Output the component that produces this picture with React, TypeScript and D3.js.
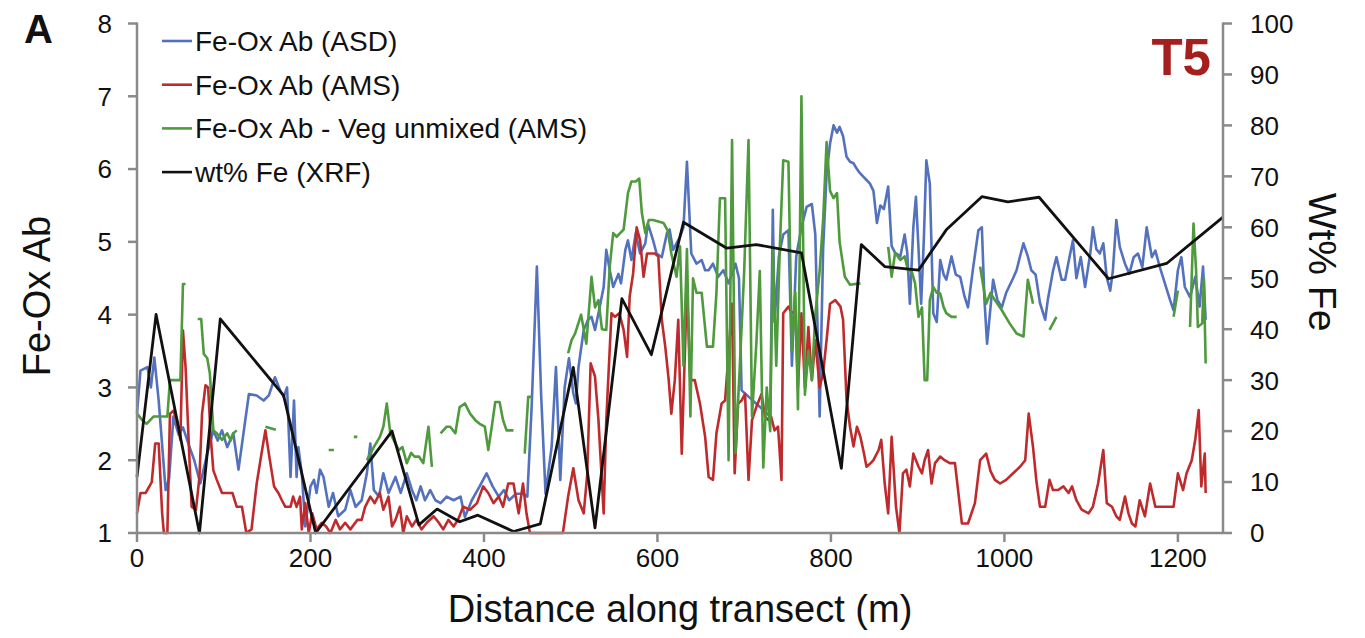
import React from "react";
import * as d3 from "d3";

// Fe-oxide abundance from field spectrometer (ASD)
const asdDist = [0,4,12,16,20,25,33,37,42,48,53,60,66,73,81,88,93,98,104,111,117,129,138,146,152,159,165,169,173,177,181,184,186,190,194,198,200,204,207,211,215,221,226,232,240,246,252,259,265,269,273,279,284,290,298,304,311,317,322,327,332,338,344,350,357,365,373,378,386,395,403,410,417,423,429,437,445,450,455,461,466,471,478,483,488,493,498,503,506,509,515,520,524,528,532,538,541,545,549,555,558,563,566,570,575,580,586,589,595,599,605,611,614,618,622,626,630,634,639,645,651,655,659,664,670,676,682,686,690,694,697,730,733,735,740,745,751,755,760,766,772,778,782,787,791,795,799,803,807,810,814,818,822,826,830,833,837,841,845,849,853,857,861,866,870,874,880,885,888,891,895,898,901,904,907,910,914,918,922,926,930,933,939,944,949,954,958,964,970,974,977,980,987,992,997,1002,1006,1010,1014,1018,1022,1027,1031,1036,1041,1047,1050,1056,1060,1066,1070,1075,1079,1083,1088,1093,1099,1102,1106,1110,1114,1118,1122,1125,1129,1133,1139,1144,1149,1154,1159,1164,1170,1174,1179,1185,1191,1195,1200,1204,1208,1214,1220,1225,1229,1232];
const asdVal = [2.64,3.23,3.28,3.0,3.41,2.82,1.59,1.75,2.6,2.35,2.45,2.2,2.0,1.68,2.09,2.41,2.27,2.41,2.18,2.37,1.87,2.91,2.89,2.82,2.89,3.14,2.96,2.87,3.0,1.77,2.82,1.77,2.18,1.82,1.09,1.45,1.64,1.73,1.55,1.87,1.77,1.36,1.55,1.23,1.32,1.59,1.36,1.45,1.82,2.23,1.59,1.5,1.82,1.55,1.77,1.55,1.82,1.59,1.45,1.64,1.45,1.59,1.45,1.41,1.5,1.45,1.5,1.22,1.45,1.64,1.82,1.64,1.5,1.59,1.45,1.54,1.54,1.5,2.74,4.66,2.87,1.54,2.18,3.28,1.73,3.0,3.4,2.92,2.78,3.28,3.79,3.93,3.97,3.79,4.02,4.38,4.89,4.61,4.38,4.56,4.43,4.89,5.02,4.75,5.12,4.84,4.98,5.25,5.02,4.84,4.79,5.12,5.17,4.89,4.98,5.07,5.2,6.1,4.84,4.7,4.75,4.61,4.61,4.7,4.52,4.61,4.43,4.56,4.7,4.5,2.96,2.6,5.44,3.9,4.8,5.1,5.16,3.3,4.8,5.2,5.48,5.52,5.1,2.6,4.9,5.94,6.35,6.6,6.5,6.58,6.45,6.17,6.1,6.08,6.0,5.95,5.9,5.85,5.8,5.7,5.26,5.5,5.45,5.76,4.94,4.85,4.8,5.1,4.85,4.15,5.2,5.62,4.9,4.15,5.0,6.12,5.8,4.02,3.9,4.75,4.55,4.48,4.8,4.55,4.52,4.25,4.1,4.65,5.16,5.2,4.2,3.6,4.48,4.2,4.1,4.3,4.4,4.5,4.61,4.8,4.98,4.8,4.61,4.55,4.16,3.93,4.2,4.6,4.79,4.48,4.48,4.79,5.02,4.5,4.79,4.38,4.84,5.2,4.9,4.84,4.98,4.51,4.33,4.6,5.3,4.93,4.7,4.56,4.79,4.84,4.65,5.2,4.79,4.88,4.66,4.43,4.2,4.06,4.61,4.79,4.38,4.24,4.52,4.11,4.66,3.93];

// Fe-oxide abundance from airborne spectrometer (AMS)
const amsDist = [0,4,10,17,21,25,29,31,35,38,42,46,50,53,56,60,63,68,72,75,79,82,85,88,92,98,110,115,121,126,132,138,143,148,152,158,163,167,171,177,180,184,188,190,194,198,202,207,213,218,223,229,234,240,246,254,259,263,269,274,280,284,290,294,298,303,307,311,317,322,328,334,342,348,353,359,365,370,376,384,392,399,405,411,417,422,428,434,440,445,449,453,470,491,497,503,509,515,519,523,528,532,538,541,547,551,556,561,565,568,572,576,580,584,588,591,597,601,605,609,613,616,620,624,628,634,638,643,649,655,659,664,668,674,678,682,686,689,693,697,701,705,709,714,720,724,728,731,735,739,743,745,751,755,759,762,766,770,774,778,782,787,791,795,799,805,811,814,818,822,826,830,834,838,841,845,849,855,858,862,866,870,875,879,883,887,891,895,901,905,908,912,916,920,926,931,937,943,951,958,966,972,979,984,989,995,1002,1010,1018,1024,1028,1033,1037,1041,1047,1052,1056,1062,1068,1074,1078,1083,1089,1097,1102,1108,1114,1118,1124,1129,1133,1139,1143,1147,1151,1156,1162,1168,1174,1178,1183,1189,1195,1200,1206,1210,1216,1220,1224,1227,1231,1232];
const amsVal = [1.27,1.55,1.55,1.7,2.23,2.23,1.27,1.0,1.0,2.64,2.68,2.55,2.28,3.78,3.28,2.14,1.36,1.32,1.77,2.64,3.03,3.0,2.32,1.86,1.73,1.55,1.55,1.36,1.36,1.0,1.05,1.68,2.05,2.41,2.09,1.64,1.55,1.45,1.36,1.36,1.5,1.36,1.5,1.05,1.41,1.0,1.27,1.05,1.14,1.09,1.0,1.18,1.05,1.14,1.05,1.18,1.18,1.36,1.5,1.41,1.55,1.32,1.5,1.09,1.18,1.36,1.0,1.23,1.09,1.18,1.05,1.14,1.23,1.14,1.05,1.18,1.09,1.18,1.36,1.32,1.41,1.64,1.55,1.41,1.5,1.36,1.68,1.68,1.27,1.68,1.27,1.0,1.0,1.0,1.5,1.89,1.45,1.27,1.8,3.33,3.15,2.55,1.27,2.55,4.02,3.97,4.02,3.79,3.42,4.25,4.57,5.2,5.02,4.52,4.84,4.84,4.84,4.8,3.93,3.56,3.1,2.64,3.1,3.93,2.09,4.38,3.1,3.1,2.78,2.32,1.77,1.73,2.37,2.78,2.82,3.47,4.15,1.82,2.78,2.82,2.91,1.73,2.55,2.73,2.91,2.6,2.55,2.6,2.41,2.46,1.73,4.02,4.11,4.02,4.06,3.0,4.02,3.0,3.83,3.1,3.65,3.0,3.2,3.65,4.15,4.2,4.11,3.93,2.83,2.46,2.19,2.46,2.32,2.1,1.91,1.95,2.0,2.14,2.28,1.68,1.27,2.32,1.36,1.0,1.82,1.87,1.64,2.09,1.91,1.82,2.0,2.14,1.68,1.96,2.05,2.0,1.96,1.96,1.13,1.13,1.41,2.0,2.09,1.85,1.73,1.68,1.73,1.82,1.91,2.0,2.64,2.18,1.7,1.36,1.36,1.73,1.59,1.59,1.64,1.55,1.64,1.45,1.32,1.27,1.36,1.68,2.14,1.41,1.36,1.23,1.18,1.5,1.27,1.13,1.09,1.45,1.23,1.68,1.36,1.36,1.36,1.36,1.36,1.82,1.59,1.82,2.0,2.28,2.69,1.64,2.09,1.55];

// Fe-oxide abundance after vegetation unmixing (AMS); null marks missing samples
const vegDist = [0,6,11,19,27,35,38,45,50,53,56,60,70,74,77,81,84,88,92,98,104,108,111,115,118,148,160,162,221,227,229,250,254,256,265,273,280,284,288,292,297,302,306,311,316,320,325,330,336,340,345,350,357,361,367,372,378,384,390,395,401,405,409,413,418,422,426,434,437,447,451,455,458,497,501,505,512,518,524,528,532,536,541,545,549,553,557,561,566,570,575,579,582,586,590,595,601,607,612,616,622,626,630,634,638,641,645,651,657,664,668,672,678,682,686,690,695,700,705,709,714,718,722,726,730,733,737,741,745,751,755,759,762,766,770,774,778,782,787,791,795,799,803,807,810,816,822,834,836,866,870,874,880,885,889,893,897,901,905,908,911,914,918,922,926,930,933,939,945,948,972,979,984,989,997,1006,1014,1022,1027,1033,1035,1052,1060,1062,1195,1200,1202,1214,1218,1221,1223,1228,1230,1232];
const vegVal = [2.64,2.55,2.5,2.6,2.6,2.6,3.1,3.1,3.1,4.42,4.42,null,3.94,3.94,3.46,3.4,3.19,2.41,2.37,2.28,2.37,2.27,2.37,2.41,null,2.46,2.42,null,2.14,2.14,null,2.32,2.32,null,2.0,2.18,2.32,2.46,2.78,2.37,2.25,2.14,2.18,1.96,2.1,2.05,2.05,1.96,2.46,1.91,null,2.37,2.46,2.46,2.37,2.73,2.78,2.64,2.55,2.5,2.46,2.14,2.46,2.8,2.8,2.55,2.41,2.41,null,2.09,2.87,2.87,null,3.47,3.65,3.74,4.0,3.6,4.52,4.1,4.2,3.8,3.79,4.66,5.12,5.07,5.12,5.17,5.67,5.83,5.83,5.87,5.4,5.12,5.3,5.3,5.28,5.26,5.15,4.84,4.52,4.94,3.3,4.9,2.6,4.5,4.3,4.3,3.56,3.56,4.3,5.6,5.6,2.0,6.4,2.1,3.3,4.6,6.4,2.6,3.6,4.6,1.9,3.0,2.4,4.9,3.3,4.9,6.12,6.1,3.5,4.3,2.7,7.0,2.9,3.5,3.1,4.0,4.6,5.3,6.37,5.7,5.6,5.67,5.0,4.52,4.41,4.43,null,4.93,4.52,4.85,4.75,4.8,4.6,4.6,4.43,3.97,4.1,3.1,3.1,4.2,4.38,4.3,4.29,4.1,4.02,3.97,3.97,null,4.66,4.15,4.3,4.2,4.06,3.88,3.74,3.7,4.48,4.15,null,3.79,3.97,null,3.97,4.33,null,3.83,5.25,4.6,3.83,3.88,4.5,3.33];

// Iron content from XRF (right axis, wt%)
const xrfDist = [0,22,72,96,169,206,294,325,346,372,393,434,465,503,528,559,593,630,680,714,766,812,835,862,901,933,974,1004,1040,1120,1187,1252];
const xrfVal = [11,42.9,0,42,27,0,20,1.6,4.7,2.2,3.5,0.3,1.8,32.5,1,46,35,61,55.9,56.6,55,12.7,56.6,52.3,51.6,59.5,66,65,65.9,49.9,52.9,62];

const xTicks = [0, 200, 400, 600, 800, 1000, 1200];
const leftTicks = [1, 2, 3, 4, 5, 6, 7, 8];
const rightTicks = [0, 10, 20, 30, 40, 50, 60, 70, 80, 90, 100];

const legendItems = [
  { label: "Fe-Ox Ab (ASD)", color: "#5471bd" },
  { label: "Fe-Ox Ab (AMS)", color: "#bf2b2d" },
  { label: "Fe-Ox Ab - Veg unmixed (AMS)", color: "#4e9a3c" },
  { label: "wt% Fe (XRF)", color: "#111111" },
];

const FONT = "'Liberation Sans', Arial, Helvetica, sans-serif";
const AXIS = "#8a8a8a";

export default function App() {
  const left = 137, right = 1223, top = 23.5, bottom = 533;
  const x = d3.scaleLinear().domain([0, 1252]).range([left, right]);
  const yL = d3.scaleLinear().domain([1, 8]).range([bottom, top]);
  const yR = d3.scaleLinear().domain([0, 100]).range([bottom, top]);

  const pairs = (ds: number[], vs: (number | null)[]) => ds.map((d, i) => [d, vs[i]] as [number, number | null]);

  const lineL = d3
    .line<[number, number | null]>()
    .defined((d) => d[1] !== null)
    .x((d) => x(d[0]))
    .y((d) => yL(d[1] as number));
  const lineR = d3
    .line<[number, number]>()
    .x((d) => x(d[0]))
    .y((d) => yR(d[1]));

  const series = [
    { d: lineL(pairs(asdDist, asdVal)), color: legendItems[0].color },
    { d: lineL(pairs(amsDist, amsVal)), color: legendItems[1].color },
    { d: lineL(pairs(vegDist, vegVal)), color: legendItems[2].color },
  ];
  const xrfPath = lineR(xrfDist.map((d, i) => [d, xrfVal[i]] as [number, number]));

  return (
    <svg
      width={1365}
      height={638}
      style={{ position: "absolute", left: 0, top: 0, background: "#fff" }}
      fontFamily={FONT}
    >
      <rect width={1365} height={638} fill="#fff" />

      {/* data lines */}
      <g fill="none" strokeWidth={2.6} strokeLinejoin="round">
        {series.map((s, i) => (
          <path key={i} d={s.d || ""} stroke={s.color} />
        ))}
        <path d={xrfPath || ""} stroke="#111" strokeWidth={2.8} />
      </g>

      {/* axes */}
      <g stroke={AXIS} strokeWidth={2.5} fill="none">
        <line x1={left} x2={left} y1={top - 1} y2={bottom} />
        <line x1={right} x2={right} y1={top - 1} y2={bottom} />
        <line x1={left} x2={right} y1={bottom} y2={bottom} />
        {leftTicks.map((t) => (
          <line key={"l" + t} x1={left - 9} x2={left} y1={yL(t)} y2={yL(t)} />
        ))}
        {rightTicks.map((t) => (
          <line key={"r" + t} x1={right} x2={right + 9} y1={yR(t)} y2={yR(t)} />
        ))}
        {xTicks.map((t) => (
          <line key={"x" + t} x1={x(t)} x2={x(t)} y1={bottom} y2={bottom + 9} />
        ))}
      </g>

      {/* tick labels */}
      <g fontSize={26} fill="#111">
        {leftTicks.map((t) => (
          <text key={t} x={112} y={yL(t)} dy="0.36em" textAnchor="end">
            {t}
          </text>
        ))}
        {rightTicks.map((t) => (
          <text key={t} x={1250} y={yR(t)} dy="0.36em" textAnchor="start">
            {t}
          </text>
        ))}
        {xTicks.map((t) => (
          <text key={t} x={x(t)} y={567} textAnchor="middle">
            {t}
          </text>
        ))}
      </g>

      {/* axis titles */}
      <text x={(left + right) / 2} y={622} fontSize={38} textAnchor="middle" fill="#111">
        Distance along transect (m)
      </text>
      <text transform="translate(50,296) rotate(-90)" fontSize={38} textAnchor="middle" fill="#111">
        Fe-Ox Ab
      </text>
      <text transform="translate(1309,262) rotate(90)" fontSize={39} textAnchor="middle" fill="#111">
        Wt% Fe
      </text>

      {/* panel letter and transect name */}
      <text x={24} y={43} fontSize={40} fontWeight="bold" fill="#111">
        A
      </text>
      <text x={1211} y={75} fontSize={51} fontWeight="bold" textAnchor="end" fill="#a51f1f">
        T5
      </text>

      {/* legend */}
      <g fontSize={28} fill="#111">
        {legendItems.map((it, i) => {
          const ly = 41 + i * 43.7;
          return (
            <g key={it.label}>
              <line x1={162} x2={192} y1={ly} y2={ly} stroke={it.color} strokeWidth={2.6} />
              <text x={195} y={ly + 10}>
                {it.label}
              </text>
            </g>
          );
        })}
      </g>
    </svg>
  );
}
